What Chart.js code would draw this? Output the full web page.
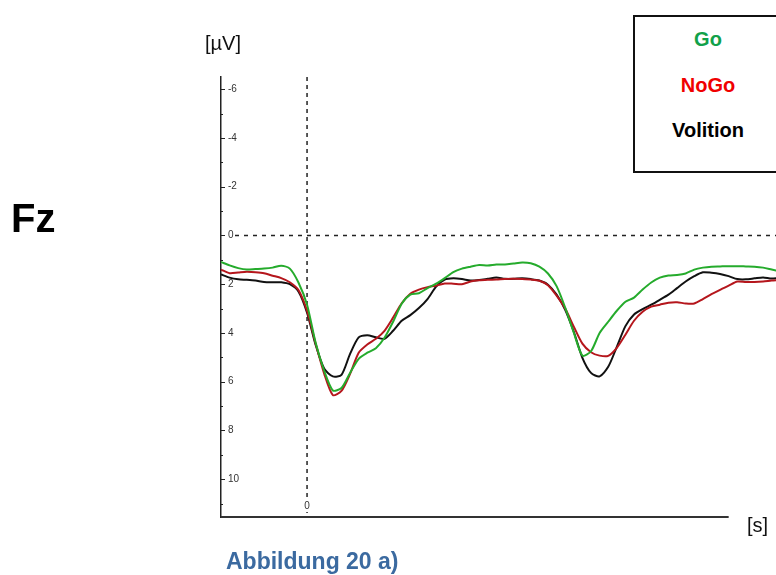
<!DOCTYPE html>
<html>
<head>
<meta charset="utf-8">
<script src="https://cdn.jsdelivr.net/npm/chart.js@4.4.1/dist/chart.umd.min.js"></script>
<style>
  body { margin: 0; background: #fff; }
  #wrap { position: relative; width: 776px; height: 575px; overflow: hidden; font-family: 'Liberation Sans', Arial, sans-serif; }
  #erp { position: absolute; left: 0; top: 0; }
  .lbl { position: absolute; white-space: nowrap; line-height: 1; }
  #legendBox { position: absolute; left: 633px; top: 15px; width: 150px; height: 158px; box-sizing: border-box; border: 2px solid #111; background: #fff; }
  .leg { left: 633px; width: 150px; text-align: center; font-weight: bold; font-size: 20px; }
</style>
</head>
<body>
<div id="wrap">
  <canvas id="erp" width="776" height="575"></canvas>
  <div class="lbl" style="left:11px; top:198px; font-size:40px; font-weight:bold; color:#000;">Fz</div>
  <div class="lbl" style="left:205px; top:33px; font-size:20px; color:#111;">[µV]</div>
  <div class="lbl" style="left:747px; top:515px; font-size:20px; color:#111;">[s]</div>
  <div id="legendBox"></div>
  <div class="lbl leg" style="top:29px; color:#12a14a;">Go</div>
  <div class="lbl leg" style="top:75px; color:#f00000;">NoGo</div>
  <div class="lbl leg" style="top:120px; color:#000;">Volition</div>
  <div class="lbl" style="left:226px; top:550px; font-size:23px; font-weight:bold; color:#3b6aa0;">Abbildung 20 a)</div>
</div>
<script>
// time in ms relative to stimulus onset
const times = [
  -200, -180, -160, -140, -120, -100, -80, -60, -40, -20,
  0, 20, 40, 60, 80, 100, 120, 140, 160, 180,
  200, 220, 240, 260, 280, 300, 320, 340, 360, 380,
  400, 420, 440, 460, 480, 500, 520, 540, 560, 580,
  600, 620, 640, 660, 680, 700, 720, 740, 760, 780,
  800, 820, 840, 860, 880, 900, 920, 940, 960, 980,
  1000, 1020, 1040, 1060, 1080, 1100
];

// amplitudes in µV (negative up)
const goWave = [
  1.09, 1.23, 1.34, 1.40, 1.38, 1.36, 1.32, 1.24, 1.36, 1.93,
  2.84, 4.40, 5.56, 6.36, 6.26, 5.64, 5.06, 4.81, 4.63, 4.20,
  3.54, 2.80, 2.43, 2.37, 2.16, 1.98, 1.75, 1.50, 1.36, 1.28,
  1.21, 1.23, 1.19, 1.19, 1.15, 1.11, 1.14, 1.28, 1.56, 2.08,
  2.96, 3.99, 4.93, 4.75, 4.00, 3.54, 3.09, 2.72, 2.55, 2.22,
  1.93, 1.73, 1.64, 1.62, 1.56, 1.40, 1.32, 1.28, 1.27, 1.26,
  1.26, 1.27, 1.28, 1.32, 1.40, 1.48
];
const nogoWave = [
  1.40, 1.55, 1.52, 1.49, 1.51, 1.55, 1.65, 1.75, 1.92, 2.24,
  3.09, 4.44, 5.68, 6.55, 6.38, 5.68, 4.81, 4.47, 4.24, 3.91,
  3.37, 2.78, 2.39, 2.22, 2.12, 2.06, 1.97, 1.98, 2.00, 1.89,
  1.84, 1.82, 1.81, 1.79, 1.78, 1.79, 1.81, 1.86, 2.04, 2.47,
  3.00, 3.74, 4.44, 4.79, 4.93, 4.94, 4.61, 4.07, 3.50, 3.13,
  2.92, 2.84, 2.76, 2.74, 2.79, 2.79, 2.61, 2.41, 2.23, 2.06,
  1.89, 1.91, 1.91, 1.89, 1.85, 1.82
];
const volitionWave = [
  1.60, 1.73, 1.80, 1.82, 1.85, 1.91, 1.92, 1.92, 2.00, 2.30,
  3.17, 4.49, 5.47, 5.78, 5.72, 4.86, 4.18, 4.09, 4.18, 4.24,
  3.91, 3.50, 3.27, 2.98, 2.61, 2.10, 1.81, 1.76, 1.79, 1.85,
  1.83, 1.78, 1.73, 1.78, 1.78, 1.76, 1.79, 1.85, 2.02, 2.43,
  3.05, 3.95, 5.02, 5.64, 5.78, 5.39, 4.57, 3.72, 3.24, 3.02,
  2.84, 2.64, 2.43, 2.16, 1.89, 1.67, 1.51, 1.53, 1.58, 1.67,
  1.79, 1.80, 1.76, 1.72, 1.77, 1.73
];

const yTickLabels = [-6, -4, -2, 0, 2, 4, 6, 8, 10];
const xTickLabels = [0];
const timeAxisEnd = 980;

const toPoints = wave => wave.map((v, i) => ({ x: times[i], y: v }));

// dashed zero lines, inner tick marks, time axis
const erpAxes = {
    id: 'erpAxes',
    beforeDatasetsDraw(chart) {
        const { ctx, chartArea: a, scales: { x, y } } = chart;
        ctx.save();
        ctx.strokeStyle = '#222';
        ctx.lineWidth = 1.5;

        ctx.setLineDash([4, 4]);
        const x0 = x.getPixelForValue(0);
        ctx.beginPath();
        ctx.moveTo(x0, a.top);
        ctx.lineTo(x0, a.bottom);
        ctx.stroke();

        ctx.setLineDash([4, 5]);
        const y0 = y.getPixelForValue(0);
        ctx.beginPath();
        ctx.moveTo(a.left + 14, y0);
        ctx.lineTo(a.right, y0);
        ctx.stroke();
        ctx.restore();
    },
    afterDraw(chart) {
        const { ctx, chartArea: a, scales: { x, y } } = chart;
        ctx.save();
        ctx.strokeStyle = '#222';
        ctx.lineWidth = 1;
        y.ticks.forEach(t => {
            if (!Number.isInteger(t.value)) return;
            const len = t.value % 2 === 0 ? 4 : 2;
            const py = Math.round(y.getPixelForValue(t.value)) + 0.5;
            ctx.beginPath();
            ctx.moveTo(a.left, py);
            ctx.lineTo(a.left + len, py);
            ctx.stroke();
        });

        ctx.lineWidth = 2;
        ctx.strokeStyle = '#333';
        ctx.beginPath();
        ctx.moveTo(a.left, a.bottom);
        ctx.lineTo(x.getPixelForValue(timeAxisEnd), a.bottom);
        ctx.stroke();

        // onset label sits on a white patch over the dashed line
        ctx.font = '10px "Liberation Sans", Arial, sans-serif';
        ctx.textAlign = 'center';
        ctx.textBaseline = 'middle';
        xTickLabels.forEach(v => {
            const px = x.getPixelForValue(v);
            const py = a.bottom - 11;
            ctx.fillStyle = '#fff';
            ctx.fillRect(px - 4, py - 6, 8, 12);
            ctx.fillStyle = '#333';
            ctx.fillText(String(v), px, py);
        });
        ctx.restore();
    }
};

Chart.defaults.font.family = '"Liberation Sans", Arial, sans-serif';

new Chart(document.getElementById('erp').getContext('2d'), {
    type: 'line',
    data: {
        datasets: [
            { label: 'Go', data: toPoints(goWave), borderColor: '#25ab2c' },
            { label: 'NoGo', data: toPoints(nogoWave), borderColor: '#b5161c' },
            { label: 'Volition', data: toPoints(volitionWave), borderColor: '#111111' }
        ]
    },
    options: {
        responsive: false,
        animation: false,
        layout: { padding: { left: 207, top: 77, right: 0, bottom: 58 } },
        elements: {
            point: { radius: 0 },
            line: { borderWidth: 2, tension: 0.25 }
        },
        scales: {
            x: {
                type: 'linear',
                display: false,
                min: -200,
                max: 1090
            },
            y: {
                reverse: true,
                min: -6.5,
                max: 11.55,
                grid: { display: false, drawTicks: false },
                border: { display: true, color: '#222', width: 1.5 },
                ticks: {
                    mirror: true,
                    padding: 7,
                    stepSize: 1,
                    color: '#333',
                    font: { size: 10 },
                    callback: v => yTickLabels.includes(v) ? String(v) : ''
                }
            }
        },
        plugins: {
            legend: { display: false },
            tooltip: { enabled: false }
        }
    },
    plugins: [erpAxes]
});
</script>
</body>
</html>
